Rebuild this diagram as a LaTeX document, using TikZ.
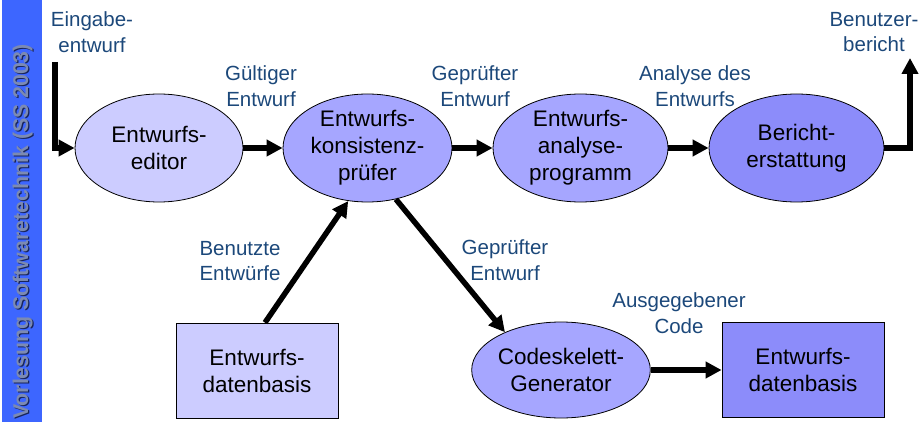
\documentclass[tikz,border=0pt]{standalone}
\usepackage{fontspec}
\setmainfont{Liberation Sans}
\usetikzlibrary{shapes.geometric,arrows.meta,calc}
\definecolor{sidebar}{RGB}{61,102,255}
\definecolor{sidetext}{RGB}{124,138,178}
\definecolor{sideshade}{RGB}{24,36,90}
\definecolor{lblblue}{RGB}{28,72,122}
\definecolor{lav}{RGB}{204,204,255}
\definecolor{mid}{RGB}{166,166,255}
\definecolor{deep}{RGB}{140,140,250}
\begin{document}
\begin{tikzpicture}[x=1pt,y=-1pt,
  proc/.style={ellipse, draw=black, line width=0.8pt, inner sep=0pt, align=center,
    font=\fontsize{22.5}{27}\selectfont},
  store/.style={rectangle, draw=black, line width=0.8pt, inner sep=0pt, align=center,
    minimum width=162pt, minimum height=95pt, font=\fontsize{22.5}{27}\selectfont},
  lbl/.style={text=lblblue, align=center, inner sep=0pt, font=\fontsize{20.5}{25.5}\selectfont},
  sidetitle/.style={rotate=90, inner sep=0pt, font=\bfseries\fontsize{21.3}{25}\selectfont},
  flow/.style={line width=5.5pt, -{Triangle[length=16pt,width=16pt]}}]
\useasboundingbox (0,0) rectangle (921,422);

% side bar with the lecture title
\fill[sidebar] (2,0) rectangle (42,422);
\node[sidetitle, text=sideshade] (titleshade) at (24,232.5) {Vorlesung Softwaretechnik (SS 2003)};
\node[sidetitle, text=sidetext] (title) at (22.6,231.5) {Vorlesung Softwaretechnik (SS 2003)};

% processes
\node[proc, fill=lav, minimum width=168pt, minimum height=108pt] (ed) at (159,148) {Entwurfs-\\editor};
\node[proc, fill=mid, minimum width=169pt, minimum height=108pt] (kp) at (367.5,148) {Entwurfs-\\konsistenz-\\prüfer};
\node[proc, fill=mid, minimum width=175pt, minimum height=108pt] (ap) at (580.5,148) {Entwurfs-\\analyse-\\programm};
\node[proc, fill=deep, minimum width=175pt, minimum height=108pt] (be) at (796.5,148) {Bericht-\\erstattung};
\node[proc, fill=mid, minimum width=176pt, minimum height=96pt] (cg) at (561,370) {Codeskelett-\\Generator};

% data stores
\node[store, fill=lav] (db1) at (257,370.5) {Entwurfs-\\datenbasis};
\node[store, fill=deep] (db2) at (803,370) {Entwurfs-\\datenbasis};

% free ends of the input and output flows
\coordinate (in) at (55,62);
\coordinate (out) at (910,58);

% flows
\draw[flow] (in) |- (ed.west);
\draw[flow] (ed.east) -- (kp.west);
\draw[flow] (kp.east) -- (ap.west);
\draw[flow] (ap.east) -- (be.west);
\draw[flow] (be.east) -| (out);
\draw[flow] ($(db1.north)+(8,0)$) -- (kp.250);
\draw[flow] (kp.-61) -- (cg.146);
\draw[flow] (cg.east) -- (db2.west);

% flow labels
\node[lbl] (l1) at (92,32) {Eingabe-\\entwurf};
\node[lbl] (l2) at (261,86) {Gültiger\\Entwurf};
\node[lbl] (l3) at (475,86) {Geprüfter\\Entwurf};
\node[lbl] (l4) at (695,86) {Analyse des\\Entwurfs};
\node[lbl] (l5) at (874,32) {Benutzer-\\bericht};
\node[lbl] (l6) at (240,261) {Benutzte\\Entwürfe};
\node[lbl] (l7) at (505,260) {Geprüfter\\Entwurf};
\node[lbl] (l8) at (679,313) {Ausgegebener\\Code};
\end{tikzpicture}
\end{document}
